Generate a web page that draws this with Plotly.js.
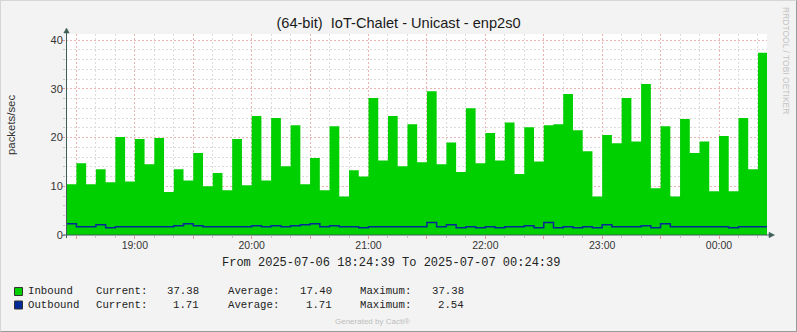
<!DOCTYPE html>
<html><head><meta charset="utf-8">
<script src="https://cdn.plot.ly/plotly-3.0.1.min.js"></script>
<style>
html,body{margin:0;padding:0;background:#f3f3f3;}
#wrap{position:relative;width:797px;height:332px;overflow:hidden;}
#chart{width:797px;height:332px;}
#frame{position:absolute;left:0;top:0;width:797px;height:332px;box-sizing:border-box;border-top:1px solid #d6d6d6;border-left:1px solid #d6d6d6;border-right:1px solid #9a9a9a;border-bottom:1px solid #9a9a9a;pointer-events:none;}
</style></head><body>
<div id="wrap"><div id="chart"></div><div id="frame"></div></div>
<script>
// ---- data ----
const titleText = '(64-bit)\u00a0 IoT-Chalet - Unicast - enp2s0';
const yAxisLabel = 'packets/sec';
const periodText = 'From 2025-07-06 18:24:39 To 2025-07-07 00:24:39';
const seriesNames = ['Inbound', 'Outbound'];
const statLabels = ['Current:', 'Average:', 'Maximum:'];
const inboundStats = ['37.38', '17.40', '37.38'];
const outboundStats = ['1.71', '1.71', '2.54'];
const hourLabels = ['19:00', '20:00', '21:00', '22:00', '23:00', '00:00'];

const inbound = [
  10.4, 14.7, 10.4, 13.5, 10.8, 20.1, 11.0, 19.7, 14.5, 19.9, 8.8, 13.5,
  11.2, 16.8, 10.0, 12.7, 9.2, 19.7, 10.2, 24.4, 11.2, 24.0, 14.1, 22.5,
  10.4, 15.8, 9.2, 22.3, 7.9, 13.3, 12.0, 28.1, 15.3, 24.4, 14.1, 22.7,
  14.9, 29.5, 14.5, 19.0, 12.9, 26.0, 14.7, 20.9, 15.3, 23.1, 12.5, 22.1,
  15.1, 22.5, 22.7, 28.9, 21.5, 17.2, 7.9, 20.5, 18.8, 28.1, 19.2, 31.0,
  9.6, 22.3, 7.9, 23.8, 16.8, 19.2, 9.0, 20.3, 9.0, 24.0, 13.5, 37.38
];
const outbound = [
  2.33, 1.71, 1.71, 2.12, 1.50, 1.71, 1.71, 1.71, 1.71, 1.71, 1.71, 1.92,
  2.33, 1.92, 1.71, 1.71, 1.71, 1.71, 1.71, 1.92, 1.71, 1.92, 1.71, 1.92,
  2.12, 2.33, 1.71, 1.92, 1.71, 1.71, 1.50, 1.71, 1.71, 1.71, 1.71, 1.71,
  1.71, 2.54, 1.71, 2.12, 1.50, 1.71, 1.50, 1.71, 1.50, 1.71, 1.71, 1.92,
  1.50, 2.54, 1.50, 1.71, 1.50, 1.71, 1.50, 2.12, 1.71, 1.71, 1.71, 1.92,
  1.50, 2.33, 1.71, 1.71, 1.71, 1.71, 1.71, 1.71, 1.50, 1.71, 1.71, 1.71
];

// ---- time base ----
const rangeStart = Date.UTC(2025, 6, 6, 18, 24, 39);
const rangeEnd = Date.UTC(2025, 6, 7, 0, 24, 39);
const firstStep = Date.UTC(2025, 6, 6, 18, 25, 0);
const stepMs = 300000;
const xs = inbound.map((_, i) => firstStep + i * stepMs);
xs.push(firstStep + inbound.length * stepMs);
const inY = inbound.concat([inbound[inbound.length - 1]]);
const outY = outbound.concat([outbound[outbound.length - 1]]);

const tickvals = [], ticktext = [];
let hi = 0;
for (let t = Date.UTC(2025, 6, 6, 18, 30); t <= rangeEnd; t += 1800000) {
  tickvals.push(t);
  ticktext.push(new Date(t).getUTCMinutes() === 0 ? hourLabels[hi++] : '');
}

// ---- geometry ----
const W = 797, H = 332, L = 66, R = 30, T = 34, B = 97;
const PW = W - L - R, PH = H - T - B;
const pxX = x => (x - L) / PW;
const pxY = y => (H - B - y) / PH;
const yMax = PH / 4.875;

const axisCol = '#3f5f58';
const mono = 'Liberation Mono, Courier New, monospace';
const sans = 'Liberation Sans, Arial, sans-serif';

const traces = [
  { x: xs, y: inY, type: 'scatter', mode: 'lines', line: { shape: 'hv', width: 0, color: '#00CF00' },
    fill: 'tozeroy', fillcolor: '#00CF00', hoverinfo: 'skip' },
  { x: xs, y: outY, type: 'scatter', mode: 'lines', line: { shape: 'hv', width: 1.5, color: '#002A97' },
    hoverinfo: 'skip' }
];

const ann = [];
function txt(text, x, y, opts) {
  ann.push(Object.assign({ text: text, x: pxX(x), y: pxY(y), xref: 'paper', yref: 'paper',
    showarrow: false, xanchor: 'left', yanchor: 'middle', borderpad: 0, borderwidth: 0,
    font: { family: mono, size: 10.7, color: '#222' } }, opts || {}));
}
txt(yAxisLabel, 11, 125, { xanchor: 'center', textangle: -90, font: { family: sans, size: 11.4, color: '#333' } });
txt('RRDTOOL / TOBI OETIKER', 786, 60, { xanchor: 'center', textangle: 90, font: { family: sans, size: 8.5, color: '#c4c4c4' } });
txt(periodText, 390.5, 263, { xanchor: 'center', font: { family: mono, size: 12, color: '#222' } });
txt('Generated by Cacti®', 372, 321.5, { xanchor: 'center', font: { family: sans, size: 8, color: '#bdbdbd' } });

const rowsY = [291, 304.5];
const statsRows = [inboundStats, outboundStats];
const labelX = [95.7, 227.7, 360];
const valueRightX = [199, 332, 464];
seriesNames.forEach((n, r) => {
  txt(n, 28, rowsY[r]);
  statLabels.forEach((s, c) => {
    txt(s, labelX[c], rowsY[r]);
    txt(statsRows[r][c], valueRightX[c], rowsY[r], { xanchor: 'right' });
  });
});

const shapes = [];
function rectPx(x0, y0, x1, y1, fill, lineCol) {
  shapes.push({ type: 'rect', xref: 'paper', yref: 'paper', x0: pxX(x0), x1: pxX(x1), y0: pxY(y0), y1: pxY(y1),
    fillcolor: fill, line: { color: lineCol, width: 1 }, layer: 'above' });
}
rectPx(14.5, 287.5, 22.5, 295.5, '#00CF00', '#333');
rectPx(14.5, 301, 22.5, 309, '#002A97', '#333');
function linePx(x0, y0, x1, y1) {
  shapes.push({ type: 'line', xref: 'paper', yref: 'paper', x0: pxX(x0), x1: pxX(x1), y0: pxY(y0), y1: pxY(y1),
    line: { color: axisCol, width: 1 }, layer: 'above' });
}
linePx(66.5, 238, 66.5, 31);
linePx(63, 235, 770, 235);
function triPx(pts) {
  const p = pts.map((q, i) => (i ? 'L' : 'M') + pxX(q[0]) + ',' + pxY(q[1])).join(' ') + ' Z';
  shapes.push({ type: 'path', xref: 'paper', yref: 'paper', path: p, fillcolor: axisCol, line: { color: axisCol, width: 0.5 }, layer: 'above' });
}
triPx([[63.8, 33], [69.2, 33], [66.5, 28]]);
triPx([[769, 232.3], [769, 237.7], [774.5, 235]]);

const layout = {
  width: W, height: H,
  margin: { l: L, r: R, t: T, b: B, pad: 0 },
  paper_bgcolor: '#f3f3f3', plot_bgcolor: '#ffffff',
  showlegend: false, hovermode: false,
  title: { text: titleText, x: 0.5, xref: 'container', xanchor: 'center', y: 1 - 23 / H, yref: 'container', yanchor: 'middle',
    font: { family: sans, size: 14.6, color: '#1a1a1a' } },
  xaxis: {
    type: 'date', range: [rangeStart, rangeEnd], fixedrange: true,
    tickmode: 'array', tickvals: tickvals, ticktext: ticktext,
    showgrid: true, gridcolor: '#eab4b4', griddash: '2px,2px', gridwidth: 1,
    ticks: 'outside', ticklen: 3, tickcolor: '#e39a9a', tickwidth: 1,
    ticklabelstandoff: -3,
    tickfont: { family: sans, size: 10.5, color: '#333' },
    showline: false, zeroline: false,
    minor: { tickmode: 'linear', tick0: Date.UTC(2025, 6, 6, 18, 30), dtick: 600000, showgrid: true,
      gridcolor: '#dcdcdc', griddash: '2px,2px', gridwidth: 1, ticks: 'outside', ticklen: 2, tickcolor: '#c4c4c4' }
  },
  yaxis: {
    range: [0, yMax], fixedrange: true,
    tickmode: 'linear', tick0: 0, dtick: 10,
    showgrid: true, gridcolor: '#eab4b4', griddash: '2px,2px', gridwidth: 1,
    ticks: 'outside', ticklen: 3, tickcolor: '#e39a9a', tickwidth: 1,
    ticklabelstandoff: -3,
    tickfont: { family: sans, size: 11, color: '#333' },
    showline: false, zeroline: false,
    minor: { tickmode: 'linear', tick0: 0, dtick: 2, showgrid: true,
      gridcolor: '#dcdcdc', griddash: '2px,2px', gridwidth: 1, ticks: 'outside', ticklen: 2, tickcolor: '#c4c4c4' }
  },
  annotations: ann,
  shapes: shapes
};

Plotly.newPlot('chart', traces, layout, { staticPlot: true, displayModeBar: false });
</script>
</body></html>
